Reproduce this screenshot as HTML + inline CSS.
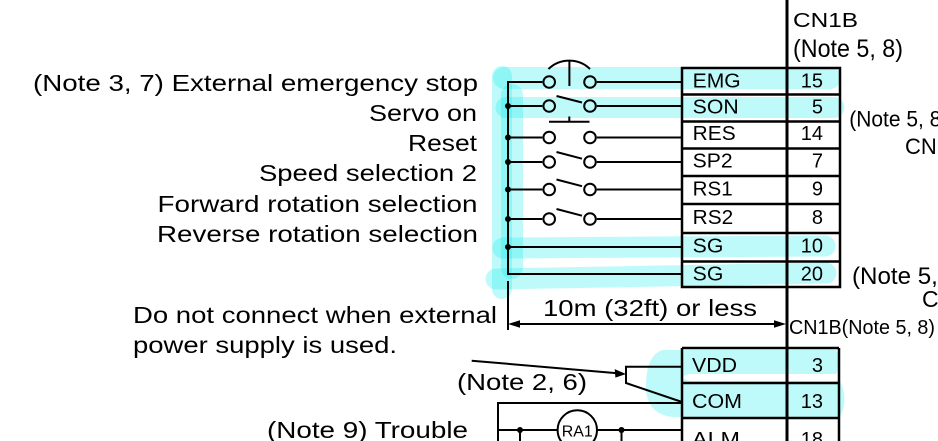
<!DOCTYPE html>
<html><head><meta charset="utf-8">
<style>
html,body{margin:0;padding:0;background:#fff;overflow:hidden;}
svg{display:block;}
text{font-family:"Liberation Sans",Arial,sans-serif;fill:#000;}
</style></head><body>
<svg width="938" height="441" viewBox="0 0 938 441" xmlns="http://www.w3.org/2000/svg">
<!-- cyan highlights -->
<g stroke="#00ebeb" stroke-opacity="0.25" stroke-linecap="round" fill="none">
  <line x1="502" y1="76" x2="502" y2="289" stroke-width="20"/>
  <line x1="512" y1="95" x2="512" y2="268" stroke-width="22"/>
  <line x1="504" y1="78" x2="830" y2="78" stroke-width="22"/>
  <line x1="506" y1="107.5" x2="834" y2="107.5" stroke-width="21"/>
  <line x1="503" y1="248" x2="825" y2="246" stroke-width="21"/>
  <line x1="496" y1="279" x2="826" y2="273" stroke-width="21"/>
</g>
<g opacity="0.25" fill="#00ebeb">
  <path d="M662,350 H836 Q843,362 836,374 H690 Q676,377 690,381 H840 Q849,399 840,417 H672 Q648,414 646,390 Q645,356 662,350 Z"/>
</g>

<!-- main vertical -->
<line x1="787" y1="0" x2="787" y2="441" stroke="#000" stroke-width="3"/>

<!-- tables -->
<g stroke="#000" stroke-width="2.5" fill="none">
  <rect x="682" y="68" width="158" height="219"/>
  <line x1="682" y1="94.5" x2="840" y2="94.5"/>
  <line x1="682" y1="121.5" x2="840" y2="121.5"/>
  <line x1="682" y1="148.5" x2="840" y2="148.5"/>
  <line x1="682" y1="176" x2="840" y2="176"/>
  <line x1="682" y1="204" x2="840" y2="204"/>
  <line x1="682" y1="233" x2="840" y2="233"/>
  <line x1="682" y1="261.5" x2="840" y2="261.5"/>
  <line x1="682" y1="348" x2="839" y2="348"/>
  <line x1="682" y1="383" x2="839" y2="383"/>
  <line x1="682" y1="418" x2="839" y2="418"/>
  <line x1="682" y1="348" x2="682" y2="441"/>
  <line x1="839" y1="348" x2="839" y2="441"/>
</g>

<!-- left circuit -->
<g stroke="#000" stroke-width="2" fill="none">
  <path d="M542.3,82 H508 V274 H682"/>
  <line x1="596.8" y1="82" x2="682" y2="82"/>
  <line x1="508" y1="106" x2="542.3" y2="106"/><line x1="596.8" y1="106" x2="682" y2="106"/>
  <line x1="508" y1="137.5" x2="542.3" y2="137.5"/><line x1="596.8" y1="137.5" x2="682" y2="137.5"/>
  <line x1="508" y1="162" x2="542.3" y2="162"/><line x1="596.8" y1="162" x2="682" y2="162"/>
  <line x1="508" y1="189.5" x2="542.3" y2="189.5"/><line x1="596.8" y1="189.5" x2="682" y2="189.5"/>
  <line x1="508" y1="219" x2="542.3" y2="219"/><line x1="596.8" y1="219" x2="682" y2="219"/>
  <line x1="508" y1="247" x2="682" y2="247"/>
  <line x1="508" y1="281" x2="508" y2="330"/>
  <circle cx="549.2" cy="82" r="5.8"/><circle cx="590" cy="82" r="5.8"/>
  <circle cx="549.2" cy="106" r="5.8"/><circle cx="590" cy="106" r="5.8"/>
  <circle cx="549.2" cy="137.5" r="5.8"/><circle cx="590" cy="137.5" r="5.8"/>
  <circle cx="549.2" cy="162" r="5.8"/><circle cx="590" cy="162" r="5.8"/>
  <circle cx="549.2" cy="189.5" r="5.8"/><circle cx="590" cy="189.5" r="5.8"/>
  <circle cx="549.2" cy="219" r="5.8"/><circle cx="590" cy="219" r="5.8"/>
  <path d="M548.5,69 A30,30 0 0 1 590,69"/>
  <line x1="569.4" y1="61" x2="569.4" y2="86"/>
  <line x1="556.5" y1="96" x2="582" y2="102.5"/>
  <line x1="549" y1="121.7" x2="589.5" y2="121.7"/>
  <line x1="569.3" y1="116.5" x2="569.3" y2="121.7"/>
  <line x1="556.5" y1="152" x2="582" y2="158.7"/>
  <line x1="556.5" y1="179.5" x2="582" y2="186.2"/>
  <line x1="556.5" y1="209" x2="582" y2="215.7"/>
  <line x1="512" y1="324" x2="783" y2="324"/>
  <line x1="471.7" y1="360.7" x2="616" y2="373.1"/>
  <path d="M682,366.7 H626 V383 L682,402"/>
  <path d="M682,403 H498 V441"/>
  <line x1="498" y1="430" x2="557.5" y2="430"/>
  <line x1="597.2" y1="430" x2="682" y2="430"/>
  <circle cx="577.3" cy="430" r="19.7"/>
  <line x1="520" y1="430" x2="520" y2="441"/>
  <line x1="621.5" y1="430" x2="621.5" y2="441"/>
</g>
<g fill="#000">
  <circle cx="508" cy="106" r="3"/>
  <circle cx="508" cy="137.5" r="3"/>
  <circle cx="508" cy="162" r="3"/>
  <circle cx="508" cy="189.5" r="3"/>
  <circle cx="508" cy="219" r="3"/>
  <circle cx="508" cy="247" r="3"/>
  <circle cx="520" cy="430" r="3"/>
  <circle cx="621.5" cy="430" r="3"/>
  <polygon points="508,324 520,320.3 520,327.7"/>
  <polygon points="786,324 774,320.3 774,327.7"/>
  <polygon points="626,374 614.7,369.1 615.4,377.6"/>
</g>

<!-- left labels -->
<g font-size="23">
  <text x="33" y="91" textLength="445" lengthAdjust="spacingAndGlyphs">(Note 3, 7) External emergency stop</text>
  <text x="369" y="121" textLength="108" lengthAdjust="spacingAndGlyphs">Servo on</text>
  <text x="408" y="151" textLength="69" lengthAdjust="spacingAndGlyphs">Reset</text>
  <text x="259" y="181" textLength="218" lengthAdjust="spacingAndGlyphs">Speed selection 2</text>
  <text x="157.5" y="212" textLength="320" lengthAdjust="spacingAndGlyphs">Forward rotation selection</text>
  <text x="157" y="242" textLength="321" lengthAdjust="spacingAndGlyphs">Reverse rotation selection</text>
  <text x="543" y="316" textLength="214" lengthAdjust="spacingAndGlyphs">10m (32ft) or less</text>
  <text x="133" y="323" textLength="364" lengthAdjust="spacingAndGlyphs">Do not connect when external</text>
  <text x="133" y="353" textLength="264" lengthAdjust="spacingAndGlyphs">power supply is used.</text>
  <text x="457" y="390" textLength="130" lengthAdjust="spacingAndGlyphs">(Note 2, 6)</text>
  <text x="267" y="438" textLength="201" lengthAdjust="spacingAndGlyphs">(Note 9) Trouble</text>
</g>

<!-- table text -->
<g font-size="20">
  <text x="692.7" y="87.3" textLength="48" lengthAdjust="spacingAndGlyphs">EMG</text>
  <text x="692.7" y="113.3" textLength="46" lengthAdjust="spacingAndGlyphs">SON</text>
  <text x="692.7" y="140" textLength="43" lengthAdjust="spacingAndGlyphs">RES</text>
  <text x="692.7" y="167.3" textLength="40" lengthAdjust="spacingAndGlyphs">SP2</text>
  <text x="692.7" y="195.7" textLength="40" lengthAdjust="spacingAndGlyphs">RS1</text>
  <text x="692.7" y="224" textLength="40.5" lengthAdjust="spacingAndGlyphs">RS2</text>
  <text x="692.7" y="252.7" textLength="30.7" lengthAdjust="spacingAndGlyphs">SG</text>
  <text x="692.7" y="280.7" textLength="30.7" lengthAdjust="spacingAndGlyphs">SG</text>
  <text x="692" y="372" textLength="45" lengthAdjust="spacingAndGlyphs">VDD</text>
  <text x="692" y="408" textLength="50" lengthAdjust="spacingAndGlyphs">COM</text>
  <text x="692" y="446" textLength="48" lengthAdjust="spacingAndGlyphs">ALM</text>
</g>
<g font-size="20" text-anchor="end">
  <text x="823" y="87.3">15</text>
  <text x="823" y="113.3">5</text>
  <text x="823" y="140">14</text>
  <text x="823" y="167.3">7</text>
  <text x="823" y="195.7">9</text>
  <text x="823" y="224">8</text>
  <text x="823" y="252.7">10</text>
  <text x="823" y="280.7">20</text>
  <text x="823" y="372">3</text>
  <text x="823" y="408">13</text>
  <text x="823" y="446">18</text>
</g>
<text x="561.7" y="436.7" font-size="16" textLength="31" lengthAdjust="spacingAndGlyphs">RA1</text>

<!-- right texts -->
<text x="793" y="27" font-size="20" textLength="65" lengthAdjust="spacingAndGlyphs">CN1B</text>
<text x="793" y="57" font-size="25" textLength="110" lengthAdjust="spacingAndGlyphs">(Note 5, 8)</text>
<text x="849.3" y="126.7" font-size="22" textLength="99" lengthAdjust="spacingAndGlyphs">(Note 5, 8)</text>
<text x="905" y="154" font-size="22">CN1B</text>
<text x="852" y="284" font-size="24" textLength="114" lengthAdjust="spacingAndGlyphs">(Note 5, 8)</text>
<text x="922" y="307" font-size="23">CN1B</text>
<text x="789" y="334" font-size="20" textLength="146" lengthAdjust="spacingAndGlyphs">CN1B(Note 5, 8)</text>
</svg>
</body></html>
